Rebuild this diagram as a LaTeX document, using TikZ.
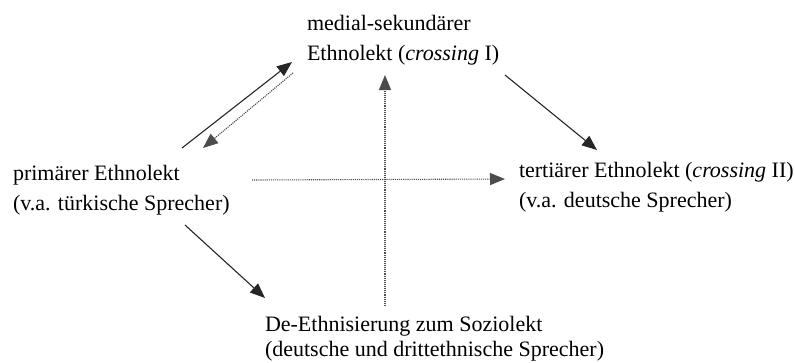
\documentclass[tikz,border=0pt]{standalone}
\usepackage{fontspec}
\setmainfont{Liberation Serif}
\usetikzlibrary{arrows.meta,calc}
\begin{document}
\begin{tikzpicture}[x=1pt,y=-1pt,
  label/.style={inner sep=0pt,outer sep=0pt,anchor=base west,font=\fontsize{22}{30}\selectfont},
  tip/.style={-{Triangle[length=15pt,width=12pt]}},
  solidarrow/.style={tip,line width=1.1pt,black!85},
  dotarrow/.style={tip,line width=1.1pt,densely dotted,black!70}]
\useasboundingbox (0,0) rectangle (795,362);
\node[label] (L) at (13,180) {\begin{tabular}[t]{@{}l@{}}primärer Ethnolekt\\(v.a. türkische Sprecher)\end{tabular}};
\node[label] (T) at (307,30) {\begin{tabular}[t]{@{}l@{}}medial-sekundärer\\Ethnolekt (\textit{crossing} I)\end{tabular}};
\node[label] (R) at (519,177) {\begin{tabular}[t]{@{}l@{}}tertiärer Ethnolekt (\textit{crossing} II)\\(v.a. deutsche Sprecher)\end{tabular}};
\node[label,font=\fontsize{22}{25}\selectfont] (B) at (265,331) {\begin{tabular}[t]{@{}l@{}}De-Ethnisierung zum Soziolekt\\(deutsche und drittethnische Sprecher)\end{tabular}};
% arrows
\draw[solidarrow] ($(L.base west)+(169,-32)$) -- ($(T.base west)+(-15,32)$);
\draw[dotarrow] ($(T.base west)+(-14,43)$) -- ($(L.base west)+(190,-32)$);
\draw[dotarrow] ($(B.base west)+(120,-25)$) -- ($(T.base west)+(78,45)$);
\draw[dotarrow] ($(L.base west)+(239,0)$) -- ($(R.base west)+(-14,2)$);
\draw[solidarrow] ($(L.base west)+(172,45)$) -- ($(B.base west)+(0,-33)$);
\draw[solidarrow] ($(T.base west)+(198,45)$) -- ($(R.base west)+(78,-27)$);
\end{tikzpicture}
\end{document}
